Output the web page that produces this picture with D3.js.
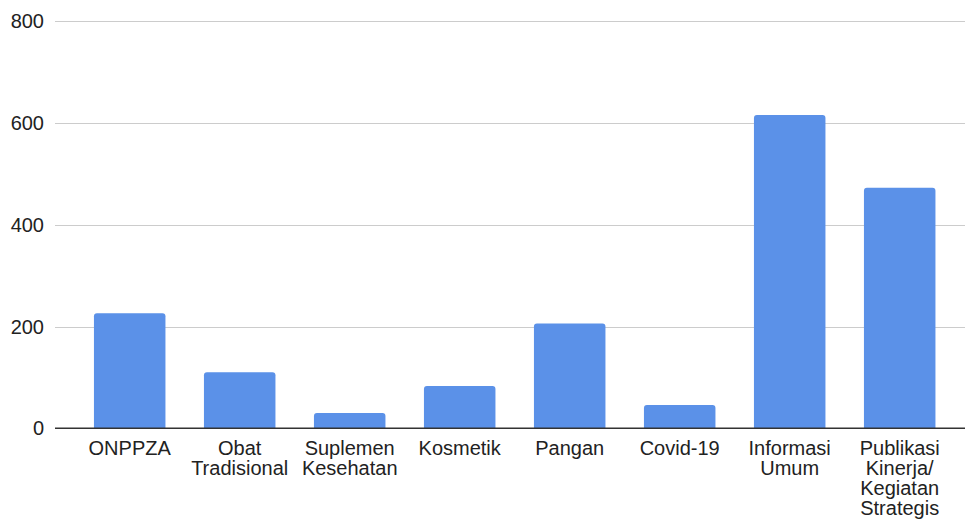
<!DOCTYPE html>
<html><head><meta charset="utf-8">
<script src="https://cdn.jsdelivr.net/npm/d3@7"></script>
<style>html,body{margin:0;padding:0;background:#fff;}svg{display:block;font-family:Arial,"Liberation Sans",sans-serif;}</style>
</head><body>
<svg id="c" width="965" height="521"></svg>
<script>
const categories = [["ONPPZA"],["Obat","Tradisional"],["Suplemen","Kesehatan"],["Kosmetik"],["Pangan"],["Covid-19"],["Informasi","Umum"],["Publikasi","Kinerja/","Kegiatan","Strategis"]];
const values = [226, 110, 30, 83, 206, 46, 616, 473];
const yTicks = [0, 200, 400, 600, 800];

const svg = d3.select("#c");
const plotLeft = 55, plotRight = 965;
const y = d3.scaleLinear().domain([0, 800]).range([428.3, 21.3]);
const x = d3.scaleBand().domain(d3.range(categories.length)).range([74.7, 954.7]).paddingInner(0.35).paddingOuter(0.175);

svg.append("g").selectAll("line").data(yTicks.filter(d => d > 0)).join("line")
  .attr("x1", plotLeft).attr("x2", plotRight)
  .attr("y1", d => Math.round(y(d)) + 0.5).attr("y2", d => Math.round(y(d)) + 0.5)
  .attr("stroke", "#cccccc").attr("stroke-width", 1);

svg.append("g").selectAll("text").data(yTicks).join("text")
  .attr("x", 44).attr("y", d => y(d) + 7)
  .attr("text-anchor", "end").attr("font-size", 20).attr("fill", "#222")
  .text(d => d);

const r = 3;
svg.append("g").selectAll("path").data(values).join("path")
  .attr("d", (d, i) => {
    const x0 = x(i), w = x.bandwidth(), y0 = y(d), yb = y(0);
    return `M${x0},${yb}V${y0 + r}Q${x0},${y0} ${x0 + r},${y0}H${x0 + w - r}Q${x0 + w},${y0} ${x0 + w},${y0 + r}V${yb}Z`;
  })
  .attr("fill", "#5b91e8");

svg.append("line").attr("x1", plotLeft).attr("x2", plotRight)
  .attr("y1", y(0)).attr("y2", y(0)).attr("stroke", "#333").attr("stroke-width", 1.5);

const lg = svg.append("g");
categories.forEach((lines, i) => {
  const t = lg.append("text").attr("text-anchor", "middle").attr("font-size", 20).attr("fill", "#222");
  lines.forEach((ln, j) => {
    t.append("tspan").attr("x", x(i) + x.bandwidth() / 2).attr("y", 455 + j * 20).text(ln);
  });
});
</script>
</body></html>
